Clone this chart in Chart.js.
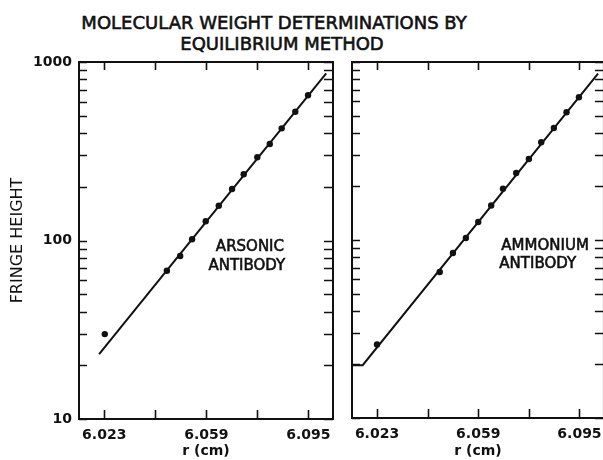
<!DOCTYPE html>
<html><head><meta charset="utf-8">
<script src="https://cdn.jsdelivr.net/npm/chart.js@4"></script>
<style>
html,body{margin:0;padding:0;background:#fff;width:603px;height:460px;overflow:hidden;position:relative;font-family:'DejaVu Sans',sans-serif;color:#111}
canvas{position:absolute;top:0}
.t{position:absolute;white-space:nowrap;font-size:18px;line-height:21px;text-align:center;-webkit-text-stroke:0.6px #111}
</style></head><body>
<div class="t" style="left:74px;width:400px;top:12px">MOLECULAR WEIGHT DETERMINATIONS BY</div>
<div class="t" style="left:82px;width:400px;top:33px">EQUILIBRIUM METHOD</div>
<canvas id="c1" width="345" height="460" style="left:0"></canvas>
<canvas id="c2" width="270" height="460" style="left:340px"></canvas>
<script>
// ---- data ----
const arsonicR = [6.0232, 6.0451, 6.0498, 6.0540, 6.0588, 6.0634, 6.0681, 6.0722, 6.0770, 6.0814, 6.0856, 6.0904, 6.0949];
const arsonicH = [29.9, 67.7, 81.9, 101.6, 128.1, 156.7, 194.3, 234.9, 292.5, 347.2, 425, 526.8, 650.8];
const arsonicFitR = [6.0212, 6.1013];
const arsonicFitH = [23.1, 864];

const ammoniumR = [6.0230, 6.0453, 6.0500, 6.0546, 6.0590, 6.0636, 6.0678, 6.0725, 6.0770, 6.0814, 6.0859, 6.0904, 6.0948];
const ammoniumH = [25.9, 66.1, 84.5, 102.6, 126.2, 156.1, 194.3, 237.9, 285, 353.8, 425.8, 521.7, 633.5];
const ammoniumFitR = [6.0141, 6.0179, 6.1016];
const ammoniumFitH = [19.8, 19.8, 860];

const xTickValues = [6.023, 6.041, 6.059, 6.077, 6.095];
const xLabelValues = [6.023, 6.059, 6.095];
const yTickValues = [10,20,30,40,50,60,70,80,90,100,200,300,400,500,600,700,800,900,1000];
const yLabelValues = [10, 100, 1000];

const X_MIN = 6.0141, X_MAX = 6.1037;
const INK = '#111';

Chart.defaults.font.family = "'DejaVu Sans', sans-serif";
Chart.defaults.color = INK;

const frame = {
  id: 'frame',
  afterDatasetsDraw(chart, args, opts) {
    const {ctx, chartArea: {left, right, top, bottom}, scales: {x, y}} = chart;
    ctx.save();
    ctx.strokeStyle = INK;
    ctx.lineWidth = 2;
    ctx.strokeRect(left, top, right - left, bottom - top);
    ctx.lineWidth = 1.6;
    ctx.beginPath();
    xTickValues.forEach(v => {
      const px = Math.round(x.getPixelForValue(v)) + 0.5;
      ctx.moveTo(px, bottom); ctx.lineTo(px, bottom - 9);
      ctx.moveTo(px, top); ctx.lineTo(px, top + 8);
    });
    yTickValues.forEach(v => {
      const py = Math.round(y.getPixelForValue(v)) + 0.5;
      ctx.moveTo(left, py); ctx.lineTo(left + 8, py);
      ctx.moveTo(right, py); ctx.lineTo(right - 9, py);
    });
    ctx.stroke();
    ctx.fillStyle = INK;
    ctx.font = "15px 'DejaVu Sans', sans-serif";
    ctx.textBaseline = 'alphabetic';
    ctx.lineWidth = 0.6;
    (opts.labels || []).forEach(l => {
      ctx.textAlign = l.align;
      const px = x.getPixelForValue(l.x), py = y.getPixelForValue(l.y);
      ctx.fillText(l.text, px, py);
      ctx.strokeText(l.text, px, py);
    });
    ctx.restore();
  }
};

function makeChart(id, r, h, fitR, fitH, o) {
  return new Chart(document.getElementById(id), {
    type: 'scatter',
    data: {
      datasets: [
        {data: fitR.map((v, i) => ({x: v, y: fitH[i]})), showLine: true, borderColor: INK, borderWidth: 2, pointRadius: 0, fill: false},
        {data: r.map((v, i) => ({x: v, y: h[i]})), showLine: false, pointRadius: 3.2, backgroundColor: INK, borderColor: INK, borderWidth: 0}
      ]
    },
    options: {
      responsive: false, animation: false, devicePixelRatio: 1,
      layout: {padding: {top: 62, right: o.padRight, left: 0, bottom: 0}},
      plugins: {legend: {display: false}, tooltip: {enabled: false}, title: {display: false},
        frame: {labels: o.labels}},
      scales: {
        x: {
          type: 'linear', min: X_MIN, max: X_MAX,
          grid: {display: false, drawTicks: false}, border: {display: false},
          afterBuildTicks: s => { s.ticks = xLabelValues.map(v => ({value: v})); },
          ticks: {padding: 8, color: INK, font: {size: 14, weight: 'bold'}, maxRotation: 0, autoSkip: false,
                  callback: v => Number(v).toFixed(3)},
          title: {display: true, text: 'r (cm)', color: INK, font: {size: 14, weight: 'bold'}, padding: {top: 0, bottom: 0}},
          afterFit: s => { s.height = o.xH; }
        },
        y: {
          type: 'logarithmic', min: 10, max: 1000,
          grid: {display: false, drawTicks: false}, border: {display: false},
          afterBuildTicks: s => { s.ticks = yLabelValues.map(v => ({value: v})); },
          ticks: {display: o.showY, padding: 7, color: INK, font: {size: 14, weight: 'bold'}, autoSkip: false,
                  callback: v => String(v)},
          title: {display: o.showY, text: 'FRINGE HEIGHT', color: INK, font: {size: 16}, padding: {top: 8, bottom: 0}},
          afterFit: s => { s.width = o.yW; }
        }
      }
    },
    plugins: [frame]
  });
}

makeChart('c1', arsonicR, arsonicH, arsonicFitR, arsonicFitH, {
  padRight: 12, xH: 41, yW: 79, showY: true,
  labels: [
    {text: 'ARSONIC', x: 6.0744, y: 87.3, align: 'center'},
    {text: 'ANTIBODY', x: 6.0733, y: 68.4, align: 'center'}
  ]
});
makeChart('c2', ammoniumR, ammoniumH, ammoniumFitR, ammoniumFitH, {
  padRight: 4, xH: 42, yW: 12, showY: false,
  labels: [
    {text: 'AMMONIUM', x: 6.0672, y: 87.5, align: 'left'},
    {text: 'ANTIBODY', x: 6.0665, y: 69.3, align: 'left'}
  ]
});
</script>
</body></html>
